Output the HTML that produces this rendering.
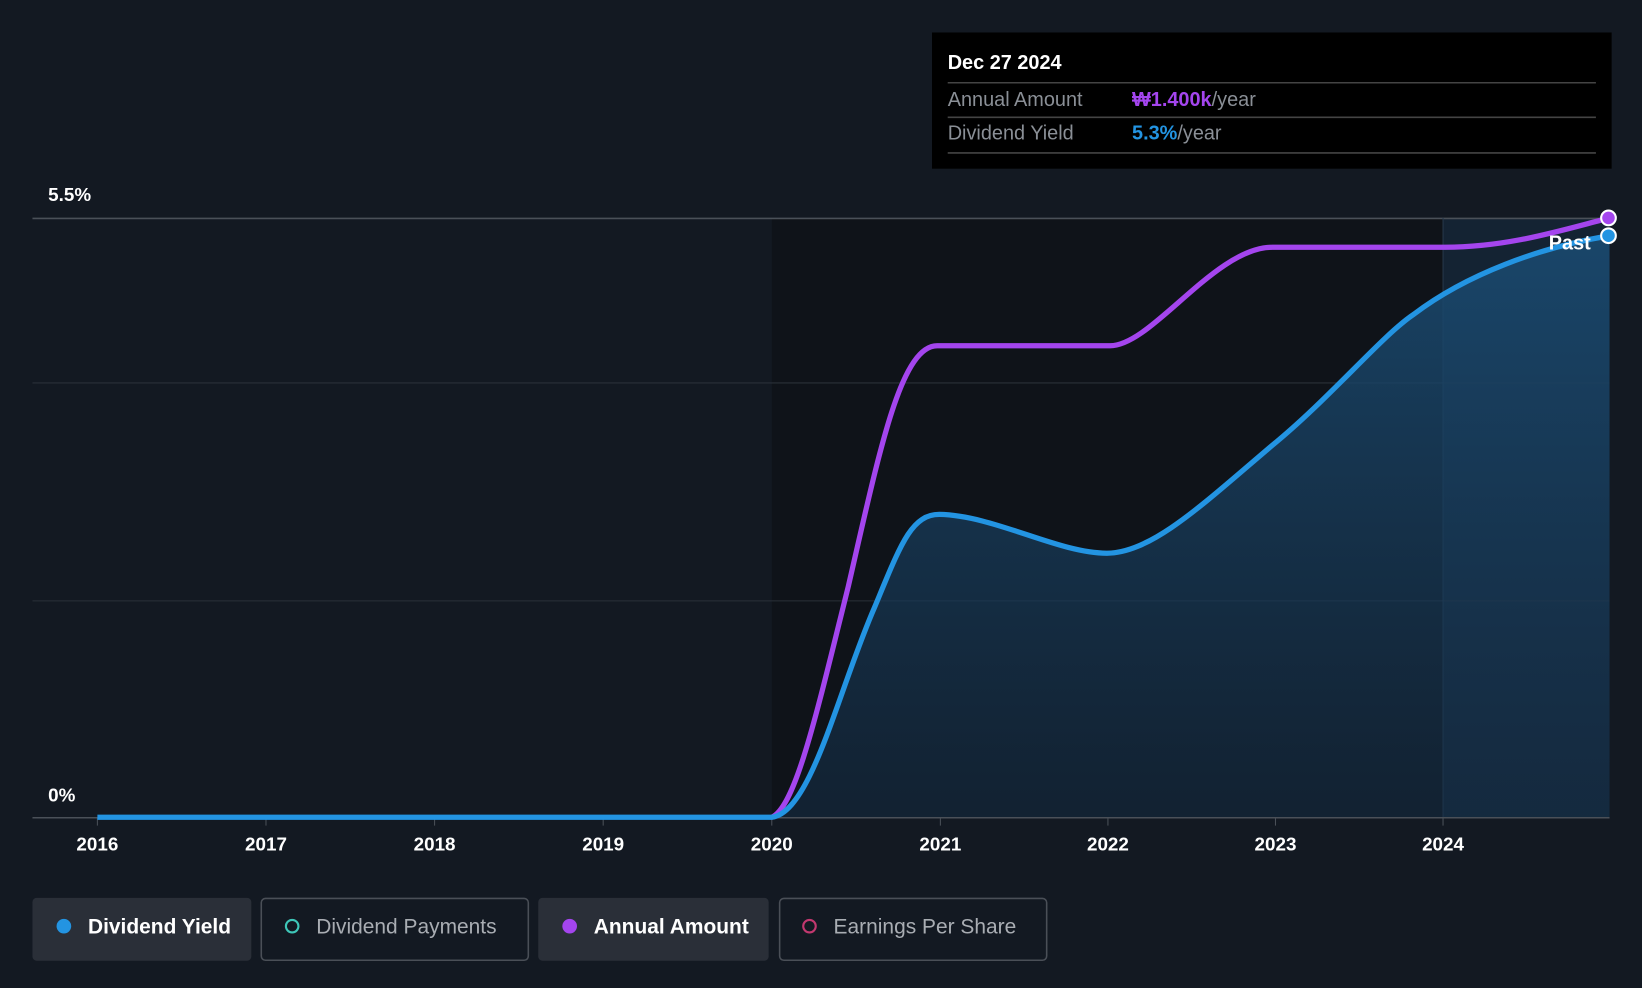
<!DOCTYPE html>
<html><head><meta charset="utf-8"><style>
html,body{margin:0;padding:0;background:#131922;}
svg{display:block;font-family:"Liberation Sans","Noto Sans CJK KR",sans-serif;}
</style></head><body>
<svg width="1642" height="988" viewBox="0 0 1568 943" preserveAspectRatio="none">
<defs>
<linearGradient id="fill" x1="0" y1="0" x2="0" y2="1">
<stop offset="0" stop-color="#1a4a70" stop-opacity="0.9"/>
<stop offset="1" stop-color="#15304a" stop-opacity="0.5"/>
</linearGradient>
</defs>
<rect width="1568" height="943" fill="#131922"/>
<rect x="737" y="208" width="641" height="572" fill="#0f1319"/>
<rect x="1378" y="208" width="159" height="572" fill="#142333"/>
<line x1="31" y1="208.5" x2="1537" y2="208.5" stroke="#4a5058" stroke-width="1.5"/>
<line x1="31" y1="365.5" x2="1537" y2="365.5" stroke="#2a3038" stroke-width="1"/>
<line x1="31" y1="573.5" x2="1537" y2="573.5" stroke="#2a3038" stroke-width="1"/>
<line x1="1378" y1="208" x2="1378" y2="780" stroke="#26384a" stroke-width="1"/>
<path d="M737,780 C775,775 800,660 835,580 C860,520 870,491 897,491 C950,492 1010,528 1057,528 C1100,528 1150,480 1215,425 C1270,380 1320,320 1350,300 C1400,262 1470,236 1537,225 L1537,780 Z" fill="url(#fill)"/>
<line x1="31" y1="780.5" x2="1537" y2="780.5" stroke="#4a5058" stroke-width="1.5"/>
<g stroke="#4a5058" stroke-width="1">
<line x1="93" y1="780" x2="93" y2="788"/><line x1="254" y1="780" x2="254" y2="788"/><line x1="415" y1="780" x2="415" y2="788"/><line x1="576" y1="780" x2="576" y2="788"/><line x1="737" y1="780" x2="737" y2="788"/><line x1="898" y1="780" x2="898" y2="788"/><line x1="1058" y1="780" x2="1058" y2="788"/><line x1="1218" y1="780" x2="1218" y2="788"/><line x1="1378" y1="780" x2="1378" y2="788"/>
</g>
<path d="M737,780 C760,770 780,680 810,560 C840,430 860,330 895,330 L1060,330 C1100,330 1160,236 1215,236 L1380,236 C1440,236 1490,220 1537,208" fill="none" stroke="#a445ee" stroke-width="5"/>
<path d="M93,780 L737,780 C775,775 800,660 835,580 C860,520 870,491 897,491 C950,492 1010,528 1057,528 C1100,528 1150,480 1215,425 C1270,380 1320,320 1350,300 C1400,262 1470,236 1537,225" fill="none" stroke="#2394e2" stroke-width="5"/>
<circle cx="1536" cy="208" r="7" fill="#a445ee" stroke="#fff" stroke-width="2"/>
<circle cx="1536" cy="225" r="7" fill="#2394e2" stroke="#fff" stroke-width="2"/>
<text x="1479" y="238" fill="#fff" font-size="19" font-weight="bold">Past</text>
<text x="46" y="192" fill="#fff" font-size="18" font-weight="bold">5.5%</text>
<text x="46" y="765" fill="#fff" font-size="18" font-weight="bold">0%</text>
<g fill="#fff" font-size="18" font-weight="bold" text-anchor="middle">
<text x="93" y="812">2016</text><text x="254" y="812">2017</text><text x="415" y="812">2018</text><text x="576" y="812">2019</text><text x="737" y="812">2020</text><text x="898" y="812">2021</text><text x="1058" y="812">2022</text><text x="1218" y="812">2023</text><text x="1378" y="812">2024</text>
</g>
<rect x="890" y="31" width="649" height="130" fill="#000"/>
<text x="905" y="66" fill="#fff" font-size="19" font-weight="bold">Dec 27 2024</text>
<line x1="905" y1="79" x2="1524" y2="79" stroke="#444" stroke-width="1.5"/>
<text x="905" y="101" fill="#8a8f96" font-size="19">Annual Amount</text>
<text x="1081" y="101" font-size="19"><tspan fill="#a445ee" font-weight="bold">₩1.400k</tspan><tspan fill="#8a8f96">/year</tspan></text>
<line x1="905" y1="112" x2="1524" y2="112" stroke="#444" stroke-width="1.5"/>
<text x="905" y="133" fill="#8a8f96" font-size="19">Dividend Yield</text>
<text x="1081" y="133" font-size="19"><tspan fill="#2394e2" font-weight="bold">5.3%</tspan><tspan fill="#8a8f96">/year</tspan></text>
<line x1="905" y1="146" x2="1524" y2="146" stroke="#444" stroke-width="1.5"/>
<rect x="31" y="857" width="209" height="60" rx="4" fill="#2a2f38"/>
<circle cx="61" cy="884" r="7" fill="#2394e2"/>
<text x="84" y="891" fill="#fff" font-size="20" font-weight="bold">Dividend Yield</text>
<rect x="249.5" y="857.5" width="255" height="59" rx="4" fill="none" stroke="#4a4f57" stroke-width="1.5"/>
<circle cx="279" cy="884" r="6" fill="none" stroke="#3ec6b8" stroke-width="2"/>
<text x="302" y="891" fill="#a9adb3" font-size="20">Dividend Payments</text>
<rect x="514" y="857" width="220" height="60" rx="4" fill="#2a2f38"/>
<circle cx="544" cy="884" r="7" fill="#a445ee"/>
<text x="567" y="891" fill="#fff" font-size="20" font-weight="bold">Annual Amount</text>
<rect x="744.5" y="857.5" width="255" height="59" rx="4" fill="none" stroke="#4a4f57" stroke-width="1.5"/>
<circle cx="773" cy="884" r="6" fill="none" stroke="#c2386f" stroke-width="2"/>
<text x="796" y="891" fill="#a9adb3" font-size="20">Earnings Per Share</text>
</svg>
</body></html>
